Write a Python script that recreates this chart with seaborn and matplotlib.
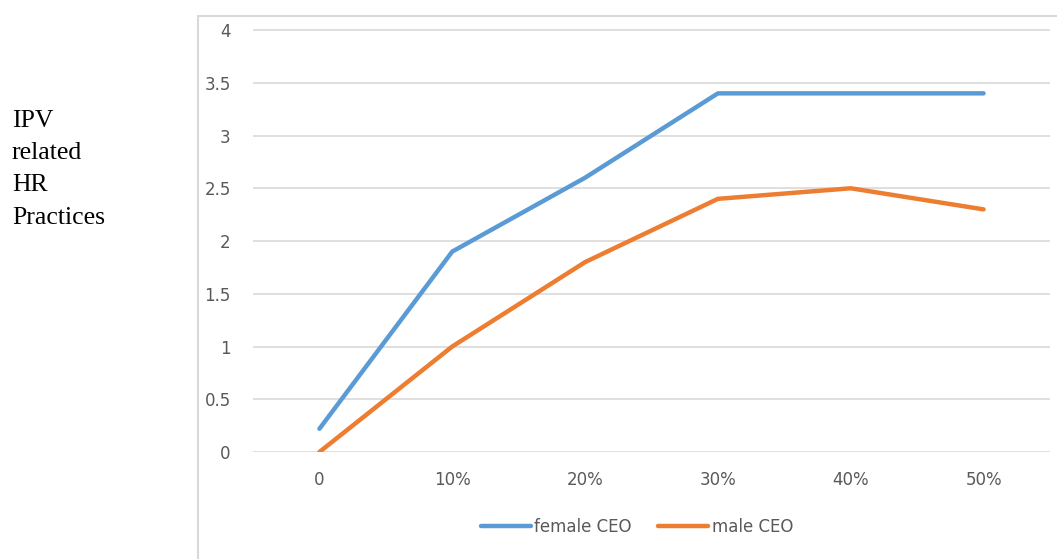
import numpy as np
import pandas as pd
import matplotlib
matplotlib.use("Agg")
import matplotlib.pyplot as plt
from matplotlib.patches import Rectangle
from matplotlib.lines import Line2D
import seaborn as sns

# data
x_labels = ["0", "10%", "20%", "30%", "40%", "50%"]
female_ceo = [0.22, 1.9, 2.6, 3.4, 3.4, 3.4]
male_ceo = [0.0, 1.0, 1.8, 2.4, 2.5, 2.3]
y_ticks = [0, 0.5, 1, 1.5, 2, 2.5, 3, 3.5, 4]
y_tick_labels = ["0", "0.5", "1", "1.5", "2", "2.5", "3", "3.5", "4"]

df = pd.DataFrame({
    "share": x_labels * 2,
    "value": female_ceo + male_ceo,
    "ceo": ["female CEO"] * len(x_labels) + ["male CEO"] * len(x_labels),
})

sns.set_theme(style="white")
plt.rcParams["font.family"] = ["DejaVu Sans"]

fig = plt.figure(figsize=(10.57, 5.59), dpi=100)
ax = fig.add_axes([253 / 1057, 1 - 452 / 559, 797 / 1057, 423 / 559])

palette = {"female CEO": "#5B9BD5", "male CEO": "#ED7D31"}
sns.lineplot(data=df, x="share", y="value", hue="ceo", palette=palette,
             sort=False, linewidth=3.2, ax=ax, legend=False,
             solid_capstyle="round")

ax.set_xlim(-0.5, 5.5)
ax.set_ylim(0, 4.01)
ax.set_yticks(y_ticks)
ax.set_yticklabels(y_tick_labels)
ax.set_xticks(range(len(x_labels)))
ax.set_xticklabels(x_labels)
ax.set_xlabel("")
ax.set_ylabel("")
ax.grid(axis="y", color="#D9D9D9", linewidth=1.2)
ax.set_axisbelow(True)
for s in ax.spines.values():
    s.set_visible(False)
ax.tick_params(axis="both", length=0, labelsize=12, labelcolor="#595959")
ax.tick_params(axis="y", pad=16)
ax.tick_params(axis="x", pad=14)

# legend
handles = [Line2D([], [], color=palette[k], lw=3.2, solid_capstyle="round") for k in palette]
fig.legend(handles, list(palette.keys()), loc="center",
           bbox_to_anchor=(637 / 1057, 1 - 527 / 559), ncol=2, frameon=False,
           fontsize=12, labelcolor="#595959", handlelength=3.0,
           handletextpad=0.2, columnspacing=1.6)

# chart area frame (cut off at right and bottom)
fig.patches.append(Rectangle((198 / 1057, -0.2), 1.0, 0.2 + 1 - 16 / 559,
                             transform=fig.transFigure, fill=False,
                             edgecolor="#D9D9D9", linewidth=1.5))

# side label
fig.text(12 / 1057, 1 - 110 / 559, "IPV\nrelated\nHR\nPractices",
         family=["Liberation Serif"], fontsize=18.5, color="black",
         va="top", ha="left", linespacing=1.6)

fig.savefig("out.png", dpi=100)
